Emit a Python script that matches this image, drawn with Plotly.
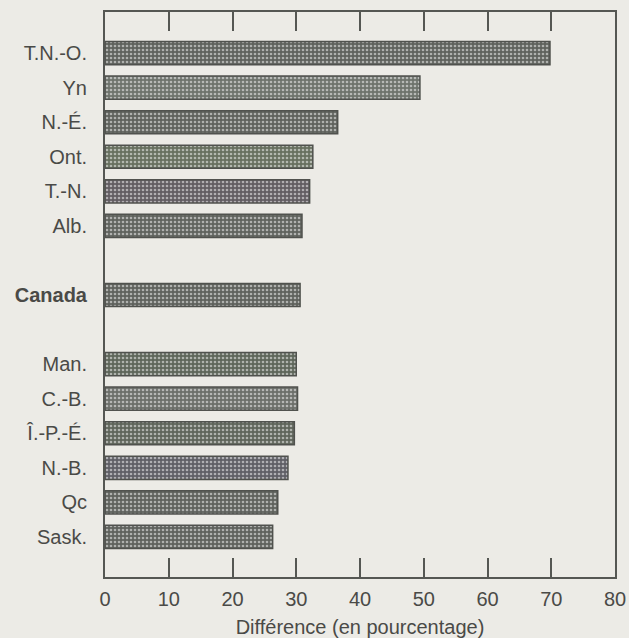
import plotly.graph_objects as go

categories = ["T.N.-O.", "Yn", "N.-É.", "Ont.", "T.-N.", "Alb.", " ", "Canada", "  ",
              "Man.", "C.-B.", "Î.-P.-É.", "N.-B.", "Qc", "Sask."]
values = [69.8, 49.4, 36.5, 32.6, 32.1, 30.9, None, 30.6, None,
          30.0, 30.2, 29.7, 28.7, 27.1, 26.3]
tick_labels = ["T.N.-O.", "Yn", "N.-É.", "Ont.", "T.-N.", "Alb.", "", "<b>Canada</b>", "",
               "Man.", "C.-B.", "Î.-P.-É.", "N.-B.", "Qc", "Sask."]
x_ticks = [0, 10, 20, 30, 40, 50, 60, 70, 80]

bar_colors = ["#5f625d", "#6e736c", "#5f625d", "#67705f", "#625d62", "#60635e", "#60635e",
              "#5f625d", "#60635e", "#5e665a", "#6c6f6a", "#5f655b", "#5f5f66", "#5f625d", "#5f625d"]

text_color = "#4a4a47"
bg = "#ecebe6"

fig = go.Figure(go.Bar(
    x=values,
    y=categories,
    orientation="h",
    width=0.67,
    marker=dict(
        color=bar_colors,
        line=dict(color="#50524e", width=1.5),
        pattern=dict(shape=".", fgcolor="#b4b6ae", size=4, solidity=0.35, fillmode="overlay"),
    ),
    showlegend=False,
    hoverinfo="x+y",
))

fig.update_layout(
    width=629,
    height=638,
    margin=dict(l=105, r=14, t=12, b=61),
    paper_bgcolor=bg,
    plot_bgcolor=bg,
    font=dict(family="Liberation Sans, Arial, sans-serif", size=20, color=text_color),
)

fig.update_xaxes(
    range=[0, 80],
    tickvals=x_ticks,
    ticktext=[str(v) for v in x_ticks],
    ticks="inside",
    ticklen=19,
    tickwidth=2,
    tickcolor="#555753",
    showline=True,
    linecolor="#555753",
    linewidth=2,
    mirror="ticks",
    showgrid=False,
    zeroline=False,
    automargin=False,
    ticklabelstandoff=3,
    title=dict(text="Différence (en pourcentage)", font=dict(size=20, color=text_color), standoff=14),
    tickfont=dict(size=20, color=text_color),
)

fig.update_yaxes(
    type="category",
    categoryorder="array",
    categoryarray=categories,
    tickvals=categories,
    ticktext=tick_labels,
    range=[15.16, -1.19],
    showline=True,
    linecolor="#555753",
    linewidth=2,
    mirror=True,
    ticks="",
    showgrid=False,
    zeroline=False,
    automargin=False,
    ticklabelstandoff=12,
    tickfont=dict(size=20, color=text_color),
)

fig.write_html(
    "out.html",
    config={"displayModeBar": False},
    post_script="document.body.style.margin='0';document.body.style.background='#ecebe6';",
)
